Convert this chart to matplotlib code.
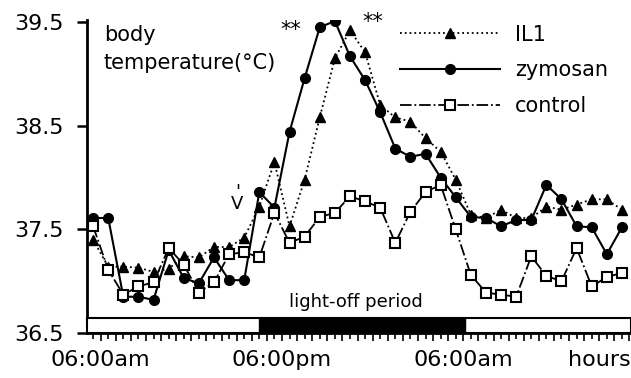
import numpy as np
import matplotlib
matplotlib.use("Agg")
import matplotlib.pyplot as plt
from matplotlib.patches import Rectangle
from matplotlib.ticker import MultipleLocator

# hours after 06:00am, one reading per hour
hours = np.arange(36) - 0.5

il1 = [37.40, 37.14, 37.14, 37.13, 37.09, 37.12, 37.24, 37.23, 37.33, 37.33,
       37.42, 37.72, 38.15, 37.53, 37.98, 38.58, 39.15, 39.42, 39.21, 38.70,
       38.58, 38.54, 38.38, 38.25, 37.98, 37.64, 37.61, 37.69, 37.61, 37.61,
       37.72, 37.69, 37.74, 37.79, 37.79, 37.69]
zymosan = [37.61, 37.61, 36.85, 36.85, 36.82, 37.30, 37.03, 36.98, 37.23, 37.01,
           37.01, 37.86, 37.71, 38.44, 38.96, 39.45, 39.51, 39.17, 38.94, 38.63,
           38.28, 38.20, 38.23, 38.00, 37.81, 37.62, 37.61, 37.53, 37.59, 37.59,
           37.93, 37.79, 37.53, 37.52, 37.26, 37.52]
control = [37.53, 37.11, 36.87, 36.95, 36.99, 37.32, 37.16, 36.89, 36.99, 37.26,
           37.28, 37.23, 37.66, 37.37, 37.43, 37.62, 37.66, 37.82, 37.77, 37.71,
           37.37, 37.67, 37.86, 37.93, 37.50, 37.06, 36.89, 36.87, 36.85, 37.24,
           37.05, 37.00, 37.32, 36.95, 37.04, 37.08]

xlabels = {0: "06:00am", 12: "06:00pm", 24: "06:00am"}
yticks = [36.5, 37.5, 38.5, 39.5]
lights_off = (10.5, 24.1)

fig = plt.figure(figsize=(6.31, 3.78), dpi=100)
ax = fig.add_axes([0.138, 0.119, 0.862, 0.828])

ax.plot(hours, il1, color="black", linestyle=":", linewidth=1.3,
        marker="^", markersize=7, label="IL1")
ax.plot(hours, zymosan, color="black", linestyle="-", linewidth=1.5,
        marker="o", markersize=7, label="zymosan")
ax.plot(hours, control, color="black", linestyle="-.", linewidth=1.3,
        marker="s", markersize=7, markerfacecolor="white",
        markeredgewidth=1.5, label="control")

xmin, xmax = -0.9, 35.1
ax.set_xlim(xmin, xmax)
ax.set_ylim(36.5, 39.52)

# light/dark bar along the bottom
ax.add_patch(Rectangle((xmin, 36.5), xmax - xmin, 0.145, facecolor="white",
                       edgecolor="black", linewidth=1.5, zorder=3, clip_on=False))
ax.add_patch(Rectangle((lights_off[0], 36.5), lights_off[1] - lights_off[0], 0.145,
                       facecolor="black", edgecolor="black", zorder=4))
ax.text(16.9, 36.71, "light-off period", fontsize=13, ha="center", va="bottom")

for side in ["top", "right"]:
    ax.spines[side].set_visible(False)
ax.spines["left"].set_linewidth(2)
ax.spines["bottom"].set_linewidth(2)

ax.set_yticks(yticks)
ax.set_yticklabels([f"{v:.1f}" for v in yticks], fontsize=16)
ax.tick_params(axis="y", length=7, width=1.8, pad=10)

major = np.arange(0, 36)
ax.set_xticks(major)
ax.set_xticklabels([xlabels.get(h, "") for h in major], fontsize=16)
ax.xaxis.set_minor_locator(MultipleLocator(0.5))
ax.tick_params(axis="x", which="major", length=6, width=1.2, pad=6)
ax.tick_params(axis="x", which="minor", length=4, width=1.2)
ax.text(xmax, -0.054, "hours", transform=ax.get_xaxis_transform(),
        fontsize=16, ha="right", va="top")

ax.text(0.2, 39.47, "body\ntemperature(°C)", fontsize=15, ha="left", va="top",
        linespacing=1.5)
ax.text(12.55, 39.42, "**", fontsize=15, ha="center", va="center")
ax.text(18.0, 39.5, "**", fontsize=15, ha="center", va="center")
ax.text(9.05, 37.8, "'\nV", fontsize=13, ha="center", va="center",
        linespacing=0.6)

ax.legend(loc="upper left", bbox_to_anchor=(0.634, 0.935),
          bbox_transform=fig.transFigure, frameon=False, fontsize=15,
          handlelength=4.8, handletextpad=0.7, labelspacing=0.75,
          borderpad=0, borderaxespad=0)

fig.savefig("out.png", dpi=100)
